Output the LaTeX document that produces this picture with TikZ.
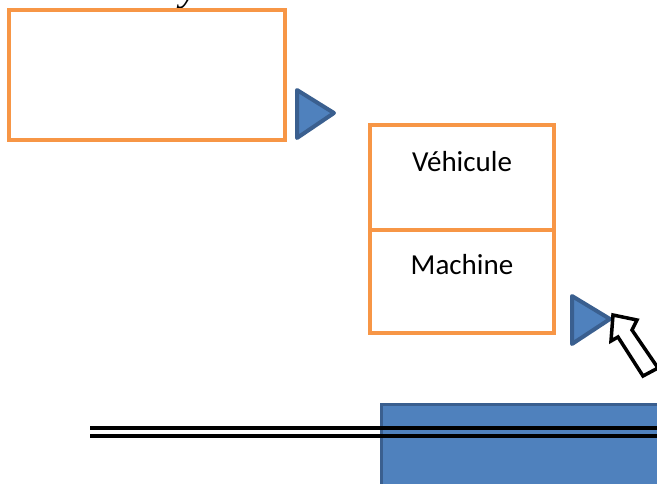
\documentclass[tikz,border=0pt]{standalone}
\usepackage{fontspec}
\setmainfont{Carlito}
\newfontfamily\yfont{Liberation Serif}
\begin{document}
\begin{tikzpicture}[x=1pt,y=-1pt,
  obox/.style={draw=boxorange,line width=4pt,fill=white,inner sep=0pt,rectangle},
  tri/.style={draw=tristroke,fill=trifill,line width=4pt,line join=round},
  celltext/.style={anchor=base,inner sep=0pt,font=\fontsize{29}{35}\selectfont},
  dbl/.style={line width=4.2pt,black}]
\definecolor{boxorange}{HTML}{F79646}
\definecolor{trifill}{HTML}{4F81BD}
\definecolor{tristroke}{HTML}{3A5F8F}
\useasboundingbox (0,0) rectangle (657,484);
\clip (0,0) rectangle (657,484);
% fragment of text cut at the top
\node[anchor=base west,inner sep=0pt,font=\yfont\itshape\fontsize{40}{42}\selectfont] (ytext) at (180,0.5) {y};
% top-left box
\node[obox,minimum width=276pt,minimum height=130pt] (boxA) at (147,75) {};
% triangle 1
\draw[tri] (297,90) -- (297,138) -- (334,113) -- cycle;
% stacked box
\node[obox,minimum width=184.5pt,minimum height=104.5pt] (cellV) at (461.75,177.75) {};
\node[obox,minimum width=184.5pt,minimum height=103pt] (cellM) at (461.75,281.5) {};
\node[celltext] (tV) at (462,172) {Véhicule};
\node[celltext] (tM) at (462,275) {Machine};
% triangle 2
\draw[tri] (572,296) -- (572,344) -- (610,319) -- cycle;
% cursor arrow
\draw[black,fill=white,line width=3.5pt,line join=miter] (613,315) -- (637,320) -- (632,330) -- (658,368) -- (643,376) -- (618,337) -- (611,341) -- cycle;
% blue rectangle
\draw[tri,line width=3pt,line join=miter] (381.5,404.5) rectangle (700,520);
% double line
\draw[dbl] (90,428) -- (660,428);
\draw[dbl] (90,436) -- (660,436);
\end{tikzpicture}
\end{document}
